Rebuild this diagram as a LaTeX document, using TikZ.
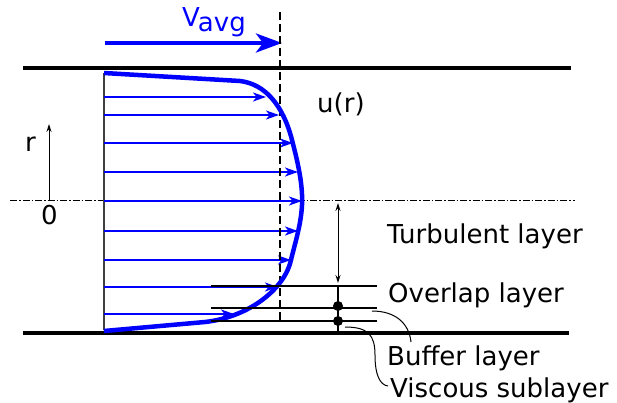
\documentclass[tikz,border=0pt]{standalone}
\usepackage{fontspec}
\setmainfont{DejaVu Sans}
\usetikzlibrary{arrows.meta}

\begin{document}
\begin{tikzpicture}[
    x=1pt, y=-1pt,
    lbl/.style={font=\fontsize{26}{31}\selectfont, inner sep=0pt, anchor=base west},
    wall/.style={line width=4pt},
    guide/.style={line width=1.1pt},
    vel/.style={blue, line width=1.6pt, -{Stealth[length=13pt, width=9pt, inset=3.5pt]}},
    profile/.style={blue, line width=4.5pt, line join=round},
    mean/.style={blue, line width=4pt, -{Stealth[length=26pt, width=19pt, inset=7pt]}},
    axis/.style={line width=0.9pt, dash pattern=on 7pt off 2pt on 1.5pt off 2pt},
    dim/.style={line width=1pt, {Stealth[length=8pt, width=5pt]}-{Stealth[length=8pt, width=5pt]}},
    leader/.style={line width=1pt},
    dot/.style={circle, fill, minimum size=10pt, inner sep=0pt}
]
\useasboundingbox (0,0) rectangle (617,403);

% pipe walls and centre line
\draw[wall] (23,68) -- (571,68);
\draw[wall] (23,333) -- (569,333);
\draw[axis] (10,200) -- (575,200);
\draw[black!75, line width=1.2pt] (104,73) -- (104,330);

% velocity vectors
\foreach \y/\xe in {97/266, 115/279, 143/293, 172/298, 201/302, 231/298, 260/291, 287/278, 314/234}
    \draw[vel] (104,\y) -- (\xe,\y);

% mean velocity
\draw[mean] (105,43) -- (282,43);
\node[lbl, text=blue] (vavg) at (182,27) {V\kern-2pt\raisebox{-5pt}{avg}};
\draw[line width=1.8pt, dash pattern=on 8pt off 4pt] (280,12) -- (280,320);

% profile
\draw[profile] (104,73) -- (240,81) .. controls (265,84) and (283,105) .. (292,140)
    .. controls (298,163) and (303,185) .. (302,205)
    .. controls (301,225) and (295,243) .. (291,260)
    .. controls (285,288) and (250,317) .. (205,322) -- (104,331);
\node[lbl] (ur) at (317,113) {u(r)};

% radial axis
\coordinate (rfoot) at (49,200);
\coordinate (rhead) at (49,124);
\draw[line width=1pt, -{Stealth[length=8pt, width=5pt]}] (rfoot) -- (rhead);
\node[lbl] (rlab) at (25,152) {r};
\node[lbl] (zero) at (41,224) {0};

% layers
\foreach \y in {286,308,321}
    \draw[guide] (211,\y) -- (377,\y);
\draw[guide] (338,286) -- (338,333);
\coordinate (tTop) at (338,203);
\coordinate (tBot) at (338,283);
\draw[dim] (tTop) -- (tBot);
\node[dot] (d1) at (338,306) {};
\node[dot] (d2) at (338,321) {};

\node[lbl] (turb) at (387,243) {Turbulent layer};
\node[lbl] (overlap) at (388,302) {Overlap layer};
\node[lbl] (buffer) at (387,365) {Buffer layer};
\node[lbl] (viscous) at (390,397) {Viscous sublayer};

\coordinate (bufTip) at (372,311);
\coordinate (bufEnd) at (411,342);
\draw[leader] (bufTip) .. controls (395,311) and (409,323) .. (bufEnd);
\coordinate (visTip) at (345,327);
\coordinate (visEnd) at (388,386);
\draw[leader] (visTip) .. controls (368,327) and (375,335) .. (375,355) .. controls (375,375) and (380,385) .. (visEnd);
\end{tikzpicture}
\end{document}
